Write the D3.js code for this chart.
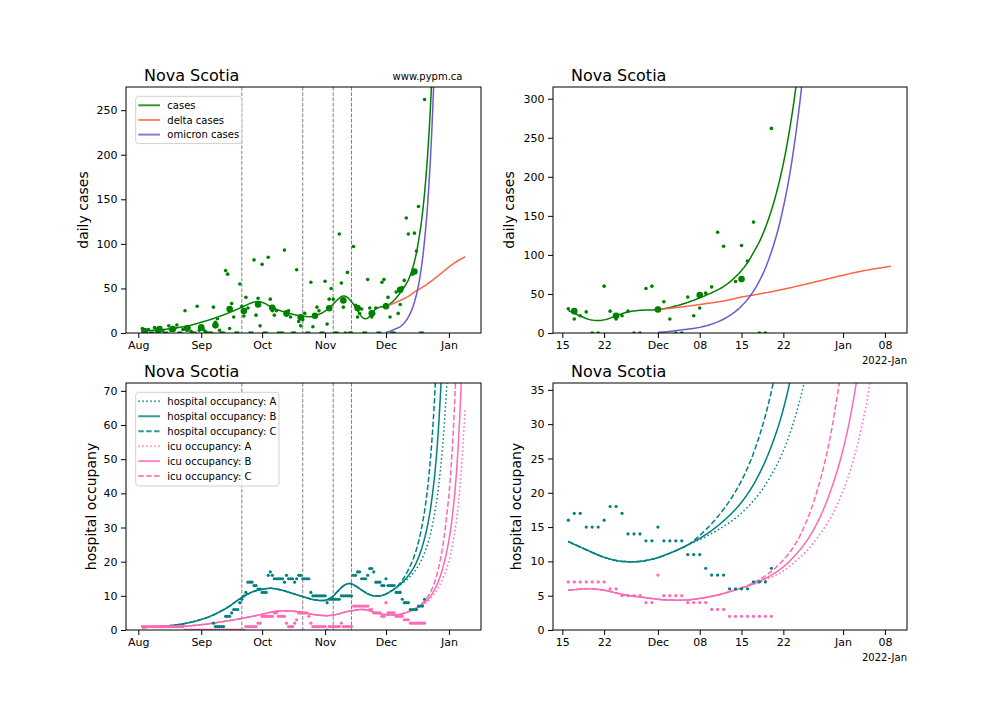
<!DOCTYPE html>
<html><head><meta charset="utf-8">
<script src="https://cdn.jsdelivr.net/npm/d3@7"></script>
<style>
body{margin:0;background:#fff;}
svg{display:block;font-family:"DejaVu Sans",sans-serif;}
</style></head><body>
<svg id="chart" width="1008" height="720"></svg>
<script>
// ---------------- DATA ----------------
const regionTitle = "Nova Scotia";
const watermark = "www.pypm.ca";
const yearLabel = "2022-Jan";
const casesLabel = "daily cases";
const hospLabel = "hospital occupany";

const leftTickDates = ["2021-08-01","2021-09-01","2021-10-01","2021-11-01","2021-12-01","2022-01-01"];
const leftTickLabels = ["Aug","Sep","Oct","Nov","Dec","Jan"];
const rightTickDates = ["2021-11-15","2021-11-22","2021-12-01","2021-12-08","2021-12-15","2021-12-22","2022-01-01","2022-01-08"];
const rightTickLabels = ["15","22","Dec","08","15","22","Jan","08"];
const casesTicksLeft = [0,50,100,150,200,250];
const casesTicksRight = [0,50,100,150,200,250,300];
const hospTicksLeft = [0,10,20,30,40,50,60,70];
const hospTicksRight = [0,5,10,15,20,25,30,35];
const interventionDates = ["2021-09-21","2021-10-21","2021-11-05","2021-11-14"];
const zoomStart = "2021-11-16";

// daily reported cases, starting 2021-08-03
const casesStart = "2021-08-03";
const dailyCases = [
 5,2,1,4,0,0,6,2,6,6,3,0,0,8,3,6,5,9,0,0,4,25,3,6,2,0,0,30,3,
 5,4,2,0,0,0,29,12,16,3,0,0,70,66,5,33,18,0,0,55,30,19,40,28,0,0,82,20,39,8,
 77,0,0,85,38,25,20,25,0,0,0,93,20,25,18,0,0,71,13,8,15,22,0,0,57,7,20,29,25,0,0,
 58,10,38,50,38,0,0,111,56,29,0,68,0,0,97,31,18,22,27,0,0,60,28,18,22,28,0,0,57,60,
 32,40,18,0,0,46,22,32,51,59,129,111,null,66,112,92,142,0,0,262
];
// weekly averages
const weeklyDates = ["2021-08-04","2021-08-11","2021-08-18","2021-08-25","2021-09-01","2021-09-08","2021-09-15","2021-09-22","2021-09-29","2021-10-06","2021-10-13","2021-10-20","2021-10-27","2021-11-03","2021-11-10","2021-11-17","2021-11-24","2021-12-01","2021-12-08","2021-12-15"];
const weeklyCases = [2.2,3.3,4.5,5.2,6.3,8.6,27,24.7,32,28.4,22,17.6,19.4,27.7,36.6,28,22,30,48.5,69];

// model: total cases
const casesModel = [["2021-08-03",2.5],["2021-08-11",3.4],["2021-08-18",5.2],["2021-08-25",7.8],["2021-09-01",12],["2021-09-08",17],["2021-09-15",23],["2021-09-22",30],["2021-09-26",34],["2021-09-29",35.3],["2021-10-02",33.5],["2021-10-06",28.5],["2021-10-10",25],["2021-10-13",23],["2021-10-17",20.5],["2021-10-21",18.8],["2021-10-25",18.3],["2021-10-29",21],["2021-11-01",24.5],["2021-11-03",28],["2021-11-07",37],["2021-11-10",41.5],["2021-11-12",40],["2021-11-14",35],["2021-11-16",29],["2021-11-18",21.7],["2021-11-20",16.5],["2021-11-21",16],["2021-11-22",16.8],["2021-11-24",22],["2021-11-26",27],["2021-11-28",29],["2021-12-01",30],["2021-12-04",34.6],["2021-12-08",45],["2021-12-10",51.5],["2021-12-12",59.5],["2021-12-14",72],["2021-12-15",80],["2021-12-16",90],["2021-12-17",103],["2021-12-18",117],["2021-12-19",135],["2021-12-20",157],["2021-12-21",184],["2021-12-22",217],["2021-12-23",258],["2021-12-24",309],["2021-12-25",372]];
const deltaModel = [["2021-12-01",30],["2021-12-04",32.5],["2021-12-08",36.5],["2021-12-12",41],["2021-12-15",46],["2021-12-18",50],["2021-12-22",56],["2021-12-26",63],["2021-12-29",68.5],["2022-01-01",74],["2022-01-05",80.5],["2022-01-09",85.5]];
const omicronModel = [["2021-12-01",0.8],["2021-12-04",3.0],["2021-12-08",7.2],["2021-12-12",17.8],["2021-12-14",27.7],["2021-12-15",34.5],["2021-12-16",43],["2021-12-17",53.6],["2021-12-18",66.8],["2021-12-19",83],["2021-12-20",104],["2021-12-21",129],["2021-12-22",161],["2021-12-23",200],["2021-12-24",250],["2021-12-25",311],["2021-12-26",387]];

// daily hospital occupancy, starting 2021-09-07
const hospStart = "2021-09-07";
const dailyHosp = [
 2,1,1,1,1,1,4,4,4,5,6,6,6,8,9,10,11,14,14,14,13,13,12,12,
 11,11,11,16,17,16,15,15,15,15,15,14,16,15,15,15,14,15,16,16,15,15,15,15,11,10,10,10,10,10,10,
 10,8,9,9,9,9,9,9,10,10,10,10,10,10,16,16,17,17,15,15,15,16,18,18,17,14,14,14,13,13,
 15,13,13,13,13,11,11,11,9,8,8,8,6,6,6,6,7,7,7,9
];
// daily icu occupancy, starting 2021-08-03
const icuStart = "2021-08-03";
const dailyIcu = [
 1,1,1,1,1,1,1,1,1,1,1,1,1,1,1,1,1,1,1,1,1,0,0,0,0,0,0,0,0,
 0,0,0,0,0,0,0,0,0,0,0,0,0,0,0,0,0,0,0,0,0,0,1,1,1,1,1,1,2,2,
 4,4,4,4,4,4,5,5,4,4,4,4,2,1,1,1,2,3,5,5,5,5,5,4,2,1,1,1,1,1,1,
 1,0,1,1,1,1,1,1,2,1,1,1,1,1,7,7,7,7,7,7,7,7,6,6,5,5,5,5,4,4,
 8,5,5,5,5,4,4,4,4,3,3,3,2,2,2,2,2,2,2,2
];

// model: hospital occupancy (shared part, then scenario tails)
const hospShared = [["2021-08-03",0.7],["2021-08-11",1.0],["2021-08-21",1.6],["2021-08-31",2.9],["2021-09-05",3.9],["2021-09-10",5.3],["2021-09-15",7.0],["2021-09-18",8.3],["2021-09-21",9.5],["2021-09-26",11.1],["2021-10-01",11.9],["2021-10-05",12.2],["2021-10-11",11.6],["2021-10-16",10.7],["2021-10-22",9.6],["2021-10-27",8.8],["2021-10-31",8.6],["2021-11-04",9.5],["2021-11-08",11.8],["2021-11-11",13.3],["2021-11-13",13.6],["2021-11-16",12.9],["2021-11-19",11.7],["2021-11-22",10.6],["2021-11-25",10.0],["2021-11-27",9.95],["2021-11-30",10.3],["2021-12-03",11.2],["2021-12-06",12.4]];
const hospTailA = [["2021-12-09",13.6],["2021-12-12",15.1],["2021-12-14",16.3],["2021-12-16",17.9],["2021-12-18",19.9],["2021-12-20",22.6],["2021-12-22",26.1],["2021-12-24",31.1],["2021-12-25",34.3],["2021-12-26",38.0],["2021-12-27",42.5],["2021-12-28",48.0],["2021-12-29",54.5],["2021-12-30",62.6],["2021-12-31",72.5],["2022-01-01",84.8]];
const hospTailB = [["2021-12-09",13.9],["2021-12-12",15.9],["2021-12-14",17.6],["2021-12-16",19.8],["2021-12-18",22.8],["2021-12-20",26.8],["2021-12-22",32.2],["2021-12-23",35.8],["2021-12-24",40.2],["2021-12-25",45.5],["2021-12-26",52],["2021-12-27",60.5],["2021-12-28",71],["2021-12-29",84]];
const hospTailC = [["2021-12-09",14.6],["2021-12-12",17.6],["2021-12-14",20.2],["2021-12-16",23.6],["2021-12-18",28.3],["2021-12-20",34.8],["2021-12-21",39.1],["2021-12-22",44.3],["2021-12-23",50.8],["2021-12-24",58.7],["2021-12-25",68.6],["2021-12-26",81.1]];
// model: icu occupancy
const icuShared = [["2021-08-03",1.0],["2021-08-11",0.9],["2021-08-21",1.0],["2021-08-31",1.5],["2021-09-10",2.3],["2021-09-21",3.4],["2021-10-01",4.6],["2021-10-06",5.3],["2021-10-11",5.6],["2021-10-16",5.5],["2021-10-22",5.0],["2021-10-28",4.4],["2021-11-02",4.2],["2021-11-07",4.6],["2021-11-11",5.3],["2021-11-14",5.6],["2021-11-16",5.8],["2021-11-19",6.0],["2021-11-22",5.8],["2021-11-25",5.2],["2021-11-29",4.7],["2021-12-02",4.4],["2021-12-05",4.35],["2021-12-08",4.6],["2021-12-11",5.1],["2021-12-14",5.85]];
const icuTailA = [["2021-12-16",6.35],["2021-12-18",6.95],["2021-12-20",7.7],["2021-12-22",8.6],["2021-12-24",10.0],["2021-12-26",11.6],["2021-12-28",13.8],["2021-12-30",16.5],["2022-01-01",20.3],["2022-01-03",25.6],["2022-01-04",29.2],["2022-01-05",33.4],["2022-01-06",39],["2022-01-07",46],["2022-01-08",55],["2022-01-09",65]];
const icuTailB = [["2021-12-16",6.4],["2021-12-18",7.1],["2021-12-20",8.0],["2021-12-22",9.2],["2021-12-24",10.9],["2021-12-26",13.1],["2021-12-28",16.2],["2021-12-30",20.5],["2022-01-01",26.3],["2022-01-03",34.9],["2022-01-04",40.8],["2022-01-05",48.5],["2022-01-06",58.5],["2022-01-07",71.5],["2022-01-08",88]];
const icuTailC = [["2021-12-16",6.5],["2021-12-18",7.35],["2021-12-20",8.55],["2021-12-22",10.2],["2021-12-24",12.5],["2021-12-26",16.1],["2021-12-28",21.3],["2021-12-30",28.8],["2021-12-31",34],["2022-01-01",39.5],["2022-01-02",47],["2022-01-03",56.5],["2022-01-04",69],["2022-01-05",84.5]];

// ---------------- HELPERS ----------------
const DAY = 864e5;
const utc = s => new Date(s + "T00:00:00Z");
const daily = (start, vals) => { const t0 = utc(start).getTime(); return vals.map((v,i)=>[new Date(t0+i*DAY), v]).filter(d=>d[1]!==null); };
const pairs = arr => arr.map(d=>[utc(d[0]), d[1]]);

// draw a model series smoothly: monotone cubic Hermite through the read points, in log space
function logSmooth(data){
  const n = data.length;
  if (n < 2) return data;
  const xs = data.map(d=>d[0].getTime()/DAY), ys = data.map(d=>Math.log(d[1]));
  const dl = [], m = new Array(n);
  for (let k=0;k<n-1;k++) dl.push((ys[k+1]-ys[k])/(xs[k+1]-xs[k]));
  m[0] = dl[0]; m[n-1] = dl[n-2];
  for (let k=1;k<n-1;k++){
    if (dl[k-1]*dl[k] <= 0) { m[k] = 0; continue; }
    const h0 = xs[k]-xs[k-1], h1 = xs[k+1]-xs[k];
    m[k] = (dl[k-1]*h1 + dl[k]*h0)/(h0+h1);
  }
  for (let k=0;k<n-1;k++){
    if (dl[k]===0){ m[k]=0; m[k+1]=0; continue; }
    const a = m[k]/dl[k], b = m[k+1]/dl[k], s = a*a+b*b;
    if (s > 9){ const t = 3/Math.sqrt(s); m[k] = t*a*dl[k]; m[k+1] = t*b*dl[k]; }
  }
  const out = [];
  for (let k=0;k<n-1;k++){
    const h = xs[k+1]-xs[k], steps = Math.max(2, Math.ceil(h/0.2));
    for (let j=0;j<steps;j++){
      const t = j/steps, t2=t*t, t3=t2*t;
      const yv = (2*t3-3*t2+1)*ys[k] + (t3-2*t2+t)*h*m[k] + (-2*t3+3*t2)*ys[k+1] + (t3-t2)*h*m[k+1];
      out.push([new Date((xs[k]+t*h)*DAY), Math.exp(yv)]);
    }
  }
  out.push(data[n-1]);
  return out;
}

const casesPts = daily(casesStart, dailyCases);
const weeklyPts = weeklyDates.map((d,i)=>[utc(d), weeklyCases[i]]);
const hospPts = daily(hospStart, dailyHosp);
const icuPts = daily(icuStart, dailyIcu);

const C = {cases:"#008000", delta:"#ff6347", omicron:"#6a5acd", hosp:"#008080", icu:"#ff69b4"};
const DASH = {solid:null, dotted:"1.5,2.5", dashed:"5.5,2.4"};

const casesLines = [
  {name:"cases", data:pairs(casesModel), color:C.cases, dash:"solid"},
  {name:"delta cases", data:pairs(deltaModel), color:C.delta, dash:"solid"},
  {name:"omicron cases", data:pairs(omicronModel), color:C.omicron, dash:"solid"}
];
const hospLines = [
  {name:"hospital occupancy: A", data:pairs(hospShared.concat(hospTailA)), color:C.hosp, dash:"dotted"},
  {name:"hospital occupancy: B", data:pairs(hospShared.concat(hospTailB)), color:C.hosp, dash:"solid"},
  {name:"hospital occupancy: C", data:pairs(hospShared.concat(hospTailC)), color:C.hosp, dash:"dashed"},
  {name:"icu occupancy: A", data:pairs(icuShared.concat(icuTailA)), color:C.icu, dash:"dotted"},
  {name:"icu occupancy: B", data:pairs(icuShared.concat(icuTailB)), color:C.icu, dash:"solid"},
  {name:"icu occupancy: C", data:pairs(icuShared.concat(icuTailC)), color:C.icu, dash:"dashed"}
];

const aug1 = utc("2021-08-01").getTime();
const nov15 = utc("2021-11-15").getTime();
const leftDom = [new Date(aug1 - 6.06*DAY), new Date(aug1 + 168.8*DAY)];
const rightDom = [new Date(nov15 - 1.56*DAY), new Date(nov15 + 57.7*DAY)];

const panels = [
  {id:"tl", left:126, right:481, top:87, bottom:333, dom:leftDom, ymax:276, yt:casesTicksLeft, kind:"cases", full:true, labelX:88},
  {id:"tr", left:553, right:907, top:87, bottom:333, dom:rightDom, ymax:315, yt:casesTicksRight, kind:"cases", full:false, labelX:514},
  {id:"bl", left:126, right:481, top:383, bottom:630, dom:leftDom, ymax:72.3, yt:hospTicksLeft, kind:"hosp", full:true, labelX:96},
  {id:"br", left:553, right:907, top:383, bottom:630, dom:rightDom, ymax:36, yt:hospTicksRight, kind:"hosp", full:false, labelX:521}
];

const svg = d3.select("#chart");
const defs = svg.append("defs");

function drawPanel(p){
  const x = d3.scaleUtc().domain(p.dom).range([p.left, p.right]);
  const y = d3.scaleLinear().domain([0, p.ymax]).range([p.bottom, p.top]);
  const g = svg.append("g");
  defs.append("clipPath").attr("id","clip-"+p.id).append("rect")
    .attr("x",p.left).attr("y",p.top).attr("width",p.right-p.left).attr("height",p.bottom-p.top);
  const plot = g.append("g").attr("clip-path",`url(#clip-${p.id})`);
  const zs = utc(zoomStart);
  const keep = arr => p.full ? arr : arr.filter(d => d[0] >= zs);

  if (p.full){
    plot.selectAll("line.iv").data(interventionDates.map(utc)).enter().append("line")
      .attr("x1",d=>x(d)).attr("x2",d=>x(d)).attr("y1",p.top).attr("y2",p.bottom)
      .attr("stroke","#808080").attr("stroke-width",1).attr("stroke-dasharray","3.7,1.6");
  }
  const line = d3.line().x(d=>x(d[0])).y(d=>y(Math.min(d[1], p.ymax*3)));
  const lines = p.kind==="cases" ? casesLines : hospLines;
  lines.forEach(s=>{
    plot.append("path").attr("d", line(logSmooth(keep(s.data)))).attr("fill","none")
      .attr("stroke",s.color).attr("stroke-width",1.5).attr("stroke-linejoin","round")
      .attr("stroke-dasharray",DASH[s.dash]);
  });
  if (p.kind==="cases"){
    plot.selectAll("circle.d").data(keep(casesPts)).enter().append("circle")
      .attr("cx",d=>x(d[0])).attr("cy",d=>y(d[1])).attr("r",1.8).attr("fill",C.cases);
    plot.selectAll("circle.w").data(keep(weeklyPts)).enter().append("circle")
      .attr("cx",d=>x(d[0])).attr("cy",d=>y(d[1])).attr("r",3.3).attr("fill",C.cases);
  } else {
    plot.selectAll("circle.h").data(keep(hospPts)).enter().append("circle")
      .attr("cx",d=>x(d[0])).attr("cy",d=>y(d[1])).attr("r",1.6).attr("fill",C.hosp);
    plot.selectAll("circle.i").data(keep(icuPts)).enter().append("circle")
      .attr("cx",d=>x(d[0])).attr("cy",d=>y(d[1])).attr("r",1.6).attr("fill",C.icu);
  }

  const tDates = (p.full ? leftTickDates : rightTickDates).map(utc);
  const tLabels = p.full ? leftTickLabels : rightTickLabels;
  const xa = d3.axisBottom(x).tickValues(tDates).tickFormat((d,i)=>tLabels[i]).tickSize(5).tickPadding(3);
  const ya = d3.axisLeft(y).tickValues(p.yt).tickSize(5).tickPadding(3.5);
  const gx = g.append("g").attr("transform",`translate(0,${p.bottom})`).call(xa);
  const gy = g.append("g").attr("transform",`translate(${p.left},0)`).call(ya);
  [gx,gy].forEach(a=>{
    a.select(".domain").remove();
    a.selectAll("text").attr("font-size",11).attr("fill","#000").attr("font-family","DejaVu Sans");
    a.selectAll("line").attr("stroke","#000").attr("stroke-width",1);
  });
  g.append("rect").attr("x",p.left).attr("y",p.top).attr("width",p.right-p.left).attr("height",p.bottom-p.top)
    .attr("fill","none").attr("stroke","#000").attr("stroke-width",1);

  g.append("text").attr("x",p.left+18).attr("y",p.top-6).attr("font-size",16).text(regionTitle);
  const cy = (p.top+p.bottom)/2;
  g.append("text").attr("transform",`translate(${p.labelX},${cy}) rotate(-90)`).attr("text-anchor","middle")
    .attr("font-size",14).text(p.kind==="cases" ? casesLabel : hospLabel);
  if (!p.full){
    g.append("text").attr("x",p.right).attr("y",p.bottom+31).attr("text-anchor","end").attr("font-size",10).text(yearLabel);
  }
  if (p.id==="tl"){
    g.append("text").attr("x",462.5).attr("y",80).attr("text-anchor","end").attr("font-size",10).text(watermark);
  }
  if (p.full){
    const lx = p.left+9.7, ly = p.top+9.3;
    const w = p.kind==="cases" ? 106 : 143.3;
    const step = p.kind==="cases" ? 14.65 : 14.95;
    const h = p.kind==="cases" ? 47.3 : 93.7;
    g.append("rect").attr("x",lx).attr("y",ly).attr("width",w).attr("height",h).attr("rx",3)
      .attr("fill","#fff").attr("fill-opacity",0.8).attr("stroke","#d0d0d0").attr("stroke-width",1);
    lines.forEach((s,i)=>{
      const yy = ly + 9 + i*step;
      g.append("line").attr("x1",lx+2.6).attr("x2",lx+24.3).attr("y1",yy).attr("y2",yy)
        .attr("stroke",s.color).attr("stroke-width",2).attr("stroke-opacity",0.8)
        .attr("stroke-dasharray",DASH[s.dash]);
      g.append("text").attr("x",lx+31.6).attr("y",yy+3.6).attr("font-size",10).text(s.name);
    });
  }
}
panels.forEach(drawPanel);
</script>
</body></html>
